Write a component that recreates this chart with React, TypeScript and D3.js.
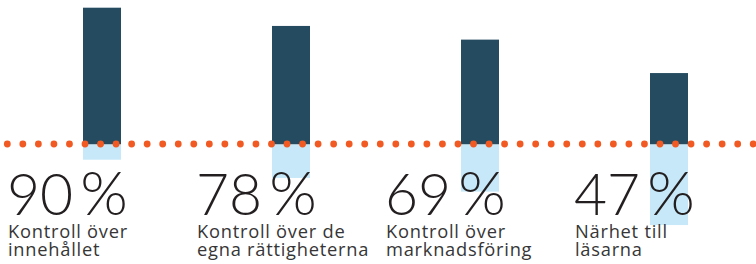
import React from "react";
import * as d3 from "d3";

const categories = ["Kontroll över innehållet", "Kontroll över de egna rättigheterna", "Kontroll över marknadsföring", "Närhet till läsarna"];
const labelLines = [
  ["Kontroll över", "innehållet"],
  ["Kontroll över de", "egna rättigheterna"],
  ["Kontroll över", "marknadsföring"],
  ["Närhet till", "läsarna"],
];
const values = [90, 78, 69, 47];

const W = 756;
const H = 264;
const baseline = 144.5;
const DARK = "#244b60";
const LIGHT = "#c6e8f8";
const ORANGE = "#f15a22";

export default function App() {
  const x = d3.scaleBand<string>().domain(categories).range([9, 9 + 189 * categories.length]).padding(0);
  const h = d3.scaleLinear().domain([0, 100]).range([0, 152]);
  const dotX = d3.range(49).map((i) => 7.3 + i * 15.54);
  const barOffset = 74;
  const barW = 38;
  return (
    <svg width={W} height={H} style={{ position: "absolute", left: 0, top: 0 }}>
      <rect width={W} height={H} fill="#fff" />
      {categories.map((c, i) => {
        const bx = (x(c) as number) + barOffset;
        return (
          <g key={c}>
            <rect x={bx} y={baseline - h(values[i])} width={barW} height={h(values[i])} fill={DARK} />
            <rect x={bx} y={baseline} width={barW} height={h(100 - values[i])} fill={LIGHT} />
          </g>
        );
      })}
      {dotX.map((dx, i) => (
        <circle key={i} cx={dx} cy={144} r={3.4} fill={ORANGE} />
      ))}
      {categories.map((c, i) => {
        const tx = x(c) as number;
        return (
          <g key={"t" + c}>
            <text x={tx - 2} y={215} fontFamily="Lato, 'Open Sans', sans-serif" fontWeight={300} fontSize={57} fill="#231f20">
              {values[i]}
              <tspan dx={7} fontSize={61}>%</tspan>
            </text>
            {labelLines[i].map((l, j) => (
              <text key={j} x={tx - 1} y={237.5 + j * 18} fontFamily="'Open Sans', sans-serif" fontSize={18.3} letterSpacing={0.75} fill="#363636">
                {l}
              </text>
            ))}
          </g>
        );
      })}
    </svg>
  );
}
